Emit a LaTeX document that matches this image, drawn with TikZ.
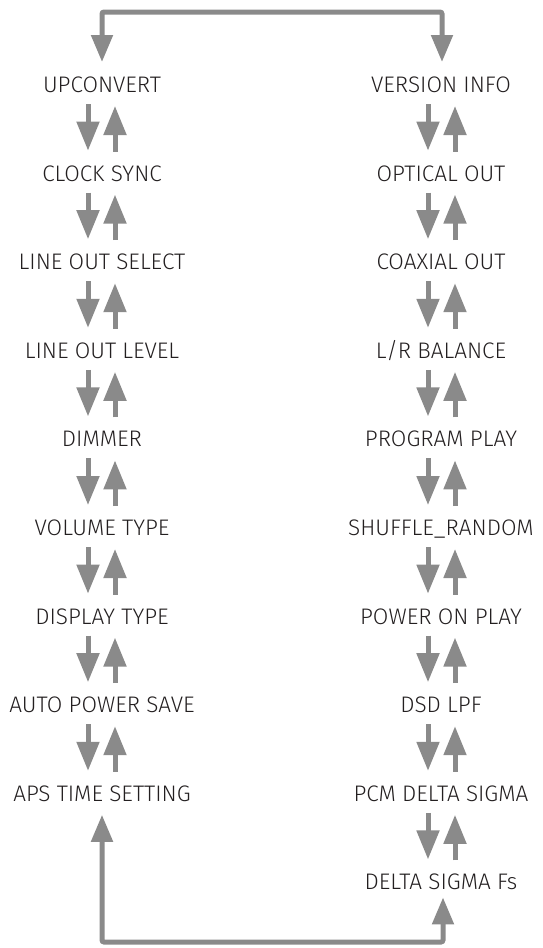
\documentclass[tikz,border=0pt]{standalone}
\usepackage{fontspec}
\setmainfont{Fira Sans Light}
\usetikzlibrary{arrows.meta}
\definecolor{arrowgray}{RGB}{138,138,138}
\definecolor{textgray}{RGB}{35,31,32}

\begin{document}
\begin{tikzpicture}[x=1pt,y=-1pt,font=\fontsize{22.5}{26}\selectfont,
  every node/.style={text=textgray,inner sep=0pt,text height=15pt,text depth=0pt},
  updown/.style={arrowgray,line width=5pt,-{Triangle[length=29pt,width=22pt]}},
  looparrow/.style={arrowgray,line width=5pt,rounded corners=2pt,
    {Triangle[length=27pt,width=21pt]}-{Triangle[length=27pt,width=21pt]}}]
  \useasboundingbox (0,0) rectangle (543,948);

  \node (l1) at (102,85.0) {UPCONVERT};
  \node (l2) at (102,173.6) {CLOCK SYNC};
  \node (l3) at (102,262.2) {LINE OUT SELECT};
  \node (l4) at (102,350.8) {LINE OUT LEVEL};
  \node (l5) at (102,439.4) {DIMMER};
  \node (l6) at (102,528.0) {VOLUME TYPE};
  \node (l7) at (102,616.6) {DISPLAY TYPE};
  \node (l8) at (102,705.2) {AUTO POWER SAVE};
  \node (l9) at (102,793.8) {APS TIME SETTING};

  \node (r1) at (441,85.0) {VERSION INFO};
  \node (r2) at (441,173.6) {OPTICAL OUT};
  \node (r3) at (441,262.2) {COAXIAL OUT};
  \node (r4) at (441,350.8) {L/R BALANCE};
  \node (r5) at (441,439.4) {PROGRAM PLAY};
  \node (r6) at (441,528.0) {SHUFFLE\_RANDOM};
  \node (r7) at (441,616.6) {POWER ON PLAY};
  \node (r8) at (441,705.2) {DSD LPF};
  \node (r9) at (441,793.8) {PCM DELTA SIGMA};
  \node (r10) at (441,882.4) {DELTA SIGMA Fs};

  \coordinate (top) at (272,12);
  \coordinate (bot) at (272,942);

  \draw [looparrow] ([xshift=0pt,yshift=23pt]l1.center) |- (top) -| ([xshift=1pt,yshift=23pt]r1.center);
  \draw [looparrow] ([yshift=-21pt]l9.center) |- (bot) -| ([xshift=2pt,yshift=-15pt]r10.center);

  \draw [updown] ([xshift=-14pt,yshift=-19pt]l1.center) -- ([xshift=-14pt,yshift=23pt]l2.center);
  \draw [updown] ([xshift=13pt,yshift=22pt]l2.center) -- ([xshift=13pt,yshift=-21pt]l1.center);
  \draw [updown] ([xshift=-14pt,yshift=-19pt]l2.center) -- ([xshift=-14pt,yshift=23pt]l3.center);
  \draw [updown] ([xshift=13pt,yshift=22pt]l3.center) -- ([xshift=13pt,yshift=-21pt]l2.center);
  \draw [updown] ([xshift=-14pt,yshift=-19pt]l3.center) -- ([xshift=-14pt,yshift=23pt]l4.center);
  \draw [updown] ([xshift=13pt,yshift=22pt]l4.center) -- ([xshift=13pt,yshift=-21pt]l3.center);
  \draw [updown] ([xshift=-14pt,yshift=-19pt]l4.center) -- ([xshift=-14pt,yshift=23pt]l5.center);
  \draw [updown] ([xshift=13pt,yshift=22pt]l5.center) -- ([xshift=13pt,yshift=-21pt]l4.center);
  \draw [updown] ([xshift=-14pt,yshift=-19pt]l5.center) -- ([xshift=-14pt,yshift=23pt]l6.center);
  \draw [updown] ([xshift=13pt,yshift=22pt]l6.center) -- ([xshift=13pt,yshift=-21pt]l5.center);
  \draw [updown] ([xshift=-14pt,yshift=-19pt]l6.center) -- ([xshift=-14pt,yshift=23pt]l7.center);
  \draw [updown] ([xshift=13pt,yshift=22pt]l7.center) -- ([xshift=13pt,yshift=-21pt]l6.center);
  \draw [updown] ([xshift=-14pt,yshift=-19pt]l7.center) -- ([xshift=-14pt,yshift=23pt]l8.center);
  \draw [updown] ([xshift=13pt,yshift=22pt]l8.center) -- ([xshift=13pt,yshift=-21pt]l7.center);
  \draw [updown] ([xshift=-14pt,yshift=-19pt]l8.center) -- ([xshift=-14pt,yshift=23pt]l9.center);
  \draw [updown] ([xshift=13pt,yshift=22pt]l9.center) -- ([xshift=13pt,yshift=-21pt]l8.center);

  \draw [updown] ([xshift=-13pt,yshift=-19pt]r1.center) -- ([xshift=-13pt,yshift=23pt]r2.center);
  \draw [updown] ([xshift=14pt,yshift=22pt]r2.center) -- ([xshift=14pt,yshift=-21pt]r1.center);
  \draw [updown] ([xshift=-13pt,yshift=-19pt]r2.center) -- ([xshift=-13pt,yshift=23pt]r3.center);
  \draw [updown] ([xshift=14pt,yshift=22pt]r3.center) -- ([xshift=14pt,yshift=-21pt]r2.center);
  \draw [updown] ([xshift=-13pt,yshift=-19pt]r3.center) -- ([xshift=-13pt,yshift=23pt]r4.center);
  \draw [updown] ([xshift=14pt,yshift=22pt]r4.center) -- ([xshift=14pt,yshift=-21pt]r3.center);
  \draw [updown] ([xshift=-13pt,yshift=-19pt]r4.center) -- ([xshift=-13pt,yshift=23pt]r5.center);
  \draw [updown] ([xshift=14pt,yshift=22pt]r5.center) -- ([xshift=14pt,yshift=-21pt]r4.center);
  \draw [updown] ([xshift=-13pt,yshift=-19pt]r5.center) -- ([xshift=-13pt,yshift=23pt]r6.center);
  \draw [updown] ([xshift=14pt,yshift=22pt]r6.center) -- ([xshift=14pt,yshift=-21pt]r5.center);
  \draw [updown] ([xshift=-13pt,yshift=-19pt]r6.center) -- ([xshift=-13pt,yshift=23pt]r7.center);
  \draw [updown] ([xshift=14pt,yshift=22pt]r7.center) -- ([xshift=14pt,yshift=-21pt]r6.center);
  \draw [updown] ([xshift=-13pt,yshift=-19pt]r7.center) -- ([xshift=-13pt,yshift=23pt]r8.center);
  \draw [updown] ([xshift=14pt,yshift=22pt]r8.center) -- ([xshift=14pt,yshift=-21pt]r7.center);
  \draw [updown] ([xshift=-13pt,yshift=-19pt]r8.center) -- ([xshift=-13pt,yshift=23pt]r9.center);
  \draw [updown] ([xshift=14pt,yshift=22pt]r9.center) -- ([xshift=14pt,yshift=-21pt]r8.center);
  \draw [updown] ([xshift=-13pt,yshift=-19pt]r9.center) -- ([xshift=-13pt,yshift=23pt]r10.center);
  \draw [updown] ([xshift=14pt,yshift=22pt]r10.center) -- ([xshift=14pt,yshift=-21pt]r9.center);
\end{tikzpicture}
\end{document}
